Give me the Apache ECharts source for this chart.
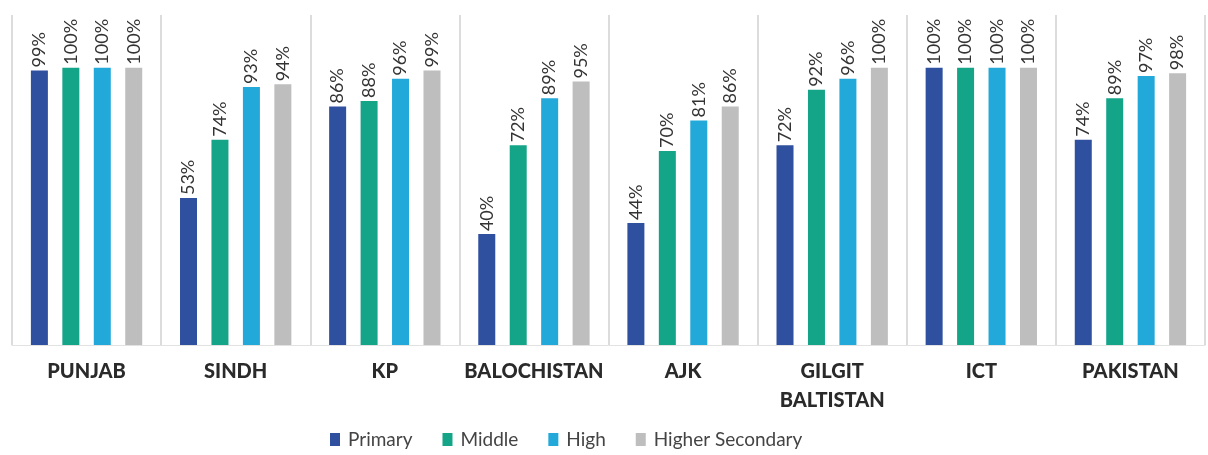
<!DOCTYPE html>
<html>
<head>
<meta charset="utf-8">
<script src="https://cdn.jsdelivr.net/npm/echarts@6/dist/echarts.min.js"></script>
<style>html,body{margin:0;padding:0;background:#fff}#c{width:1208px;height:455px}</style>
</head>
<body>
<div id="c"></div>
<script>
const categories = ['PUNJAB', 'SINDH', 'KP', 'BALOCHISTAN', 'AJK', 'GILGIT\nBALTISTAN', 'ICT', 'PAKISTAN'];
const primary = [99, 53, 86, 40, 44, 72, 100, 74];
const middle = [100, 74, 88, 72, 70, 92, 100, 89];
const high = [100, 93, 96, 89, 81, 96, 100, 97];
const higherSecondary = [100, 94, 99, 95, 86, 100, 100, 98];
const seriesNames = ['Primary', 'Middle', 'High', 'Higher Secondary'];
const colors = ['#2f4f9f', '#14a589', '#22a9d9', '#bebebe'];

const chart = echarts.init(document.getElementById('c'));
const label = {
  show: true, position: 'top', rotate: 90, align: 'left', verticalAlign: 'middle',
  distance: 3, formatter: '{c}%', color: '#333', fontSize: 18, fontFamily: 'Lato'
};
const dataSets = [primary, middle, high, higherSecondary];
chart.setOption({
  animation: false,
  color: colors,
  grid: { left: 12, right: 3, top: 15, bottom: 110 },
  legend: {
    bottom: 1, left: 325, itemWidth: 10, itemHeight: 13, itemGap: 30,
    icon: 'rect',
    textStyle: { fontSize: 19, color: '#444', fontFamily: 'Lato', padding: [0, 0, 0, 3] },
    data: seriesNames
  },
  xAxis: {
    type: 'category', data: categories,
    axisTick: { show: false },
    axisLine: { show: true, lineStyle: { color: '#e2e2e2', width: 1 } },
    splitLine: { show: true, lineStyle: { color: '#dcdcdc', width: 2 } },
    axisLabel: { margin: 12, fontSize: 20, fontWeight: 900, color: '#2a2a2a', fontFamily: 'Lato', lineHeight: 29, interval: 0 }
  },
  yAxis: { type: 'value', min: 0, max: 119, show: false, splitLine: { show: false } },
  series: dataSets.map((d, i) => ({
    name: seriesNames[i], type: 'bar', data: d, barWidth: 17, barGap: '85%', label: label
  }))
});
</script>
</body>
</html>
